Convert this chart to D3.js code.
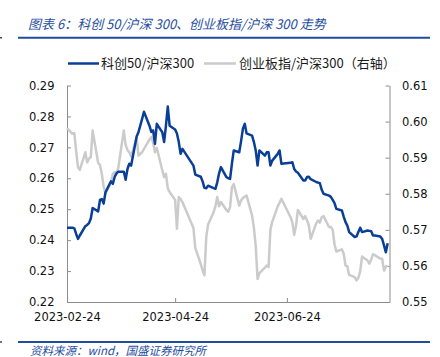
<!DOCTYPE html>
<html>
<head>
<meta charset="utf-8">
<script src="https://cdn.jsdelivr.net/npm/d3@7"></script>
<style>
  html, body { margin: 0; padding: 0; background: #fff; }
  svg { display: block; }
</style>
</head>
<body>
<svg id="chart" width="440" height="357"></svg>
<script>
// ---------- data ----------
const dates = [
  "2023-02-24",
  "2023-02-27","2023-02-28","2023-03-01","2023-03-02","2023-03-03",
  "2023-03-06","2023-03-07","2023-03-08","2023-03-09","2023-03-10",
  "2023-03-13","2023-03-14","2023-03-15","2023-03-16","2023-03-17",
  "2023-03-20","2023-03-21","2023-03-22","2023-03-23","2023-03-24",
  "2023-03-27","2023-03-28","2023-03-29","2023-03-30","2023-03-31",
  "2023-04-03","2023-04-04","2023-04-06","2023-04-07",
  "2023-04-10","2023-04-11","2023-04-12","2023-04-13","2023-04-14",
  "2023-04-17","2023-04-18","2023-04-19","2023-04-20","2023-04-21",
  "2023-04-24","2023-04-25","2023-04-26","2023-04-27","2023-04-28",
  "2023-05-04","2023-05-05",
  "2023-05-08","2023-05-09","2023-05-10","2023-05-11","2023-05-12",
  "2023-05-15","2023-05-16","2023-05-17","2023-05-18","2023-05-19",
  "2023-05-22","2023-05-23","2023-05-24","2023-05-25","2023-05-26",
  "2023-05-29","2023-05-30","2023-05-31","2023-06-01","2023-06-02",
  "2023-06-05","2023-06-06","2023-06-07","2023-06-08","2023-06-09",
  "2023-06-12","2023-06-13","2023-06-14","2023-06-15","2023-06-16",
  "2023-06-19","2023-06-20","2023-06-21",
  "2023-06-26","2023-06-27","2023-06-28","2023-06-29","2023-06-30",
  "2023-07-03","2023-07-04","2023-07-05","2023-07-06","2023-07-07",
  "2023-07-10","2023-07-11","2023-07-12","2023-07-13","2023-07-14",
  "2023-07-17","2023-07-18","2023-07-19","2023-07-20","2023-07-21",
  "2023-07-24","2023-07-25","2023-07-26","2023-07-27","2023-07-28",
  "2023-07-31","2023-08-01","2023-08-02","2023-08-03","2023-08-04",
  "2023-08-07","2023-08-08","2023-08-09","2023-08-10","2023-08-11",
  "2023-08-14","2023-08-15","2023-08-16","2023-08-17","2023-08-18"
];

// 科创50/沪深300 (left axis)
const kc50Ratio = [
  0.2440,
  0.2440,0.2438,0.2420,0.2404,0.2415,
  0.2445,0.2449,0.2455,0.2470,0.2504,
  0.2493,0.2530,0.2533,0.2518,0.2555,
  0.2590,0.2582,0.2604,0.2616,0.2621,
  0.2621,0.2595,0.2630,0.2647,0.2641,
  0.2735,0.2749,0.2792,0.2815,
  0.2770,0.2750,0.2755,0.2711,0.2776,
  0.2749,0.2717,0.2770,0.2832,0.2770,
  0.2758,0.2745,0.2717,0.2679,0.2695,
  0.2641,0.2612,
  0.2605,0.2590,0.2569,0.2568,0.2576,
  0.2568,0.2566,0.2587,0.2616,0.2636,
  0.2604,0.2600,0.2598,0.2647,0.2690,
  0.2684,0.2720,0.2760,0.2776,0.2745,
  0.2738,0.2717,0.2690,0.2641,0.2690,
  0.2673,0.2684,0.2684,0.2641,0.2657,
  0.2679,0.2690,0.2647,
  0.2650,0.2652,0.2630,0.2622,0.2618,
  0.2593,0.2593,0.2604,0.2605,0.2597,
  0.2588,0.2586,0.2584,0.2563,0.2550,
  0.2544,0.2540,0.2530,0.2520,0.2501,
  0.2496,0.2476,0.2458,0.2447,0.2426,
  0.2410,0.2412,0.2426,0.2440,0.2426,
  0.2431,0.2430,0.2429,0.2415,0.2415,
  0.2412,0.2404,0.2383,0.2361,0.2390
];

// 创业板指/沪深300 (right axis)
const cybRatio = [
  0.5982,
  0.5966,0.5968,0.5918,0.5874,0.5866,
  0.5915,0.5887,0.5897,0.5902,0.5975,
  0.5885,0.5880,0.5855,0.5820,0.5800,
  0.5832,0.5855,0.5860,0.5858,0.5872,
  0.5975,0.5935,0.5921,0.5915,0.5903,
  0.5955,0.5906,0.5915,0.5924,
  0.5950,0.5957,0.5942,0.5915,0.5927,
  0.5865,0.5846,0.5855,0.5815,0.5805,
  0.5783,0.5703,0.5791,0.5785,0.5777,
  0.5705,0.5650,
  0.5605,0.5588,0.5574,0.5680,0.5715,
  0.5749,0.5765,0.5791,0.5765,0.5777,
  0.5755,0.5750,0.5763,0.5818,0.5827,
  0.5767,0.5782,0.5788,0.5792,0.5795,
  0.5740,0.5705,0.5655,0.5564,0.5580,
  0.5595,0.5601,0.5597,0.5700,0.5722,
  0.5765,0.5775,0.5786,
  0.5735,0.5720,0.5686,0.5712,0.5755,
  0.5730,0.5738,0.5726,0.5712,0.5675,
  0.5718,0.5726,0.5720,0.5735,0.5738,
  0.5708,0.5708,0.5700,0.5660,0.5640,
  0.5646,0.5634,0.5601,0.5599,0.5575,
  0.5569,0.5560,0.5567,0.5585,0.5626,
  0.5615,0.5606,0.5618,0.5632,0.5630,
  0.5620,0.5620,0.5587,0.5598,0.5601
];

const leftTicks = [0.22, 0.23, 0.24, 0.25, 0.26, 0.27, 0.28, 0.29];
const rightTicks = [0.55, 0.56, 0.57, 0.58, 0.59, 0.60, 0.61];
const xTickLabels = ["2023-02-24", "2023-04-24", "2023-06-24"];
const xDomain = ["2023-02-24", "2023-08-19"];
const seriesNames = ["科创50/沪深300", "创业板指/沪深300（右轴）"];
const titleText = "图表 6：科创 50/沪深 300、创业板指/沪深 300 走势";
const sourceText = "资料来源：wind，国盛证券研究所";

// ---------- drawing ----------
const parse = d3.timeParse("%Y-%m-%d");
const fmt = d3.timeFormat("%Y-%m-%d");
const svg = d3.select("#chart");

const BLUE = "#0a3f97";
const GREY = "#cbcbcb";
const HEAD = "#1f4e9e";
const AXIS = "#8c8c8c";
const numFont = "'DejaVu Sans', Verdana, sans-serif";
const cjkFont = "'Noto Sans CJK SC', 'Noto Sans', sans-serif";

const plot = { left: 67, right: 389.5, top: 85.5, bottom: 302 };

const x = d3.scaleTime().domain(xDomain.map(parse)).range([plot.left, plot.right]);
const yL = d3.scaleLinear().domain([0.22, 0.29]).range([plot.bottom, plot.top]);
const yR = d3.scaleLinear().domain([0.55, 0.61]).range([plot.bottom, plot.top]);

// title
svg.append("text")
  .attr("x", 28).attr("y", 29)
  .attr("font-family", cjkFont).attr("font-size", 13)
  .attr("font-style", "italic")
  .attr("fill", HEAD)
  .text(titleText);

svg.append("line").attr("x1", 18).attr("x2", 430).attr("y1", 37.7).attr("y2", 37.7)
  .attr("stroke", HEAD).attr("stroke-width", 2);
svg.append("line").attr("x1", 0).attr("x2", 2).attr("y1", 37.7).attr("y2", 37.7)
  .attr("stroke", HEAD).attr("stroke-width", 1.5);

// legend
const legend = [
  { name: seriesNames[0], color: BLUE, x1: 68, x2: 99, tx: 101 },
  { name: seriesNames[1], color: GREY, x1: 204, x2: 236, tx: 239 }
];
const lg = svg.append("g");
legend.forEach(d => {
  lg.append("line").attr("x1", d.x1).attr("x2", d.x2).attr("y1", 63.5).attr("y2", 63.5)
    .attr("stroke", d.color).attr("stroke-width", 2.5);
  lg.append("text").attr("x", d.tx).attr("y", 63.5).attr("dy", "0.36em")
    .attr("font-family", cjkFont).attr("font-size", 13).attr("fill", "#1a1a1a")
    .text(d.name);
});

// axes
const axL = d3.axisLeft(yL).tickValues(leftTicks).tickFormat(d3.format(".2f"))
  .tickSizeInner(-4).tickSizeOuter(0).tickPadding(12.5);
const axR = d3.axisRight(yR).tickValues(rightTicks).tickFormat(d3.format(".2f"))
  .tickSizeInner(-4).tickSizeOuter(0).tickPadding(12.5);
const axB = d3.axisBottom(x).tickValues(xTickLabels.map(parse)).tickFormat(fmt)
  .tickSizeInner(-4).tickSizeOuter(0).tickPadding(11);

function styleAxis(g) {
  g.selectAll("path, line").attr("stroke", AXIS).attr("stroke-width", 1);
  g.selectAll("text").attr("font-family", numFont).attr("font-size", 11.5).attr("fill", "#111");
}
svg.append("g").attr("transform", `translate(${plot.left},0)`).call(axL).call(styleAxis);
svg.append("g").attr("transform", `translate(${plot.right},0)`).call(axR).call(styleAxis);
svg.append("g").attr("transform", `translate(0,${plot.bottom})`).call(axB).call(styleAxis);

// lines
const pts = dates.map(parse);
const lineL = d3.line().x((d, i) => x(pts[i])).y(d => yL(d));
const lineR = d3.line().x((d, i) => x(pts[i])).y(d => yR(d));

svg.append("path").datum(cybRatio).attr("d", lineR)
  .attr("fill", "none").attr("stroke", GREY).attr("stroke-width", 2.5)
  .attr("stroke-linejoin", "round");
svg.append("path").datum(kc50Ratio).attr("d", lineL)
  .attr("fill", "none").attr("stroke", BLUE).attr("stroke-width", 2.5)
  .attr("stroke-linejoin", "round");

// footer
svg.append("line").attr("x1", 18).attr("x2", 430).attr("y1", 342).attr("y2", 342)
  .attr("stroke", HEAD).attr("stroke-width", 2);
svg.append("line").attr("x1", 0).attr("x2", 2).attr("y1", 342).attr("y2", 342)
  .attr("stroke", HEAD).attr("stroke-width", 1.5);
svg.append("text")
  .attr("x", 30).attr("y", 354.5)
  .attr("font-family", cjkFont).attr("font-size", 11.5)
  .attr("font-style", "italic").attr("fill", HEAD)
  .text(sourceText);
</script>
</body>
</html>
